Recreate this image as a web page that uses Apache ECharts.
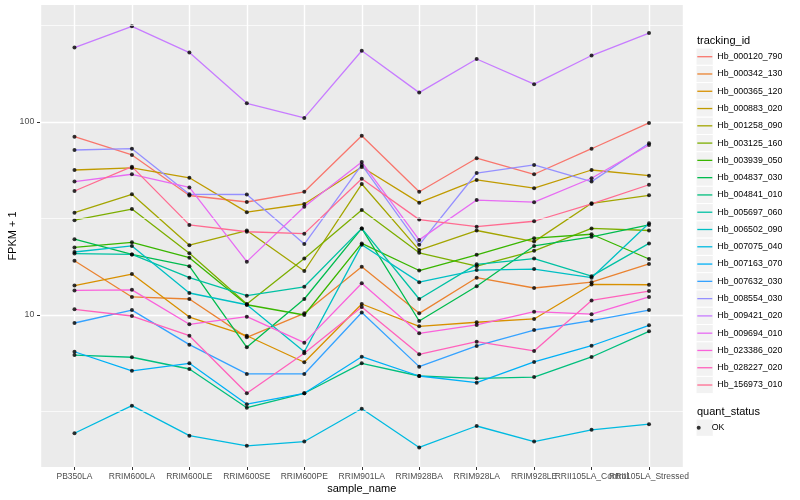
<!DOCTYPE html>
<html><head><meta charset="utf-8">
<script src="https://cdn.jsdelivr.net/npm/echarts@6/dist/echarts.min.js"></script>
<style>html,body{margin:0;padding:0;background:#fff}#c{width:800px;height:500px}</style>
</head><body><div id="c"></div>
<script>
// ---- data ----
const categories = ['PB350LA','RRIM600LA','RRIM600LE','RRIM600SE','RRIM600PE','RRIM901LA','RRIM928BA','RRIM928LA','RRIM928LE','RRII105LA_Control','RRII105LA_Stressed'];
const trackingIds = ['Hb_000120_790','Hb_000342_130','Hb_000365_120','Hb_000883_020','Hb_001258_090','Hb_003125_160','Hb_003939_050','Hb_004837_030','Hb_004841_010','Hb_005697_060','Hb_006502_090','Hb_007075_040','Hb_007163_070','Hb_007632_030','Hb_008554_030','Hb_009421_020','Hb_009694_010','Hb_023386_020','Hb_028227_020','Hb_156973_010'];
const quantStatus = ['OK'];
const Hb_000120_790 = [83.9, 67.5, 41.6, 38.5, 43.5, 84.9, 43.5, 64.9, 53.6, 72.7, 98.9];
const Hb_000342_130 = [19.1, 12.4, 12.1, 7.66, 10.2, 17.8, 10.2, 15.6, 13.8, 14.8, 18.4];
const Hb_000365_120 = [14.2, 16.3, 9.76, 7.81, 5.69, 11.4, 8.74, 9.17, 9.54, 14.4, 14.35];
const Hb_000883_020 = [56.4, 57.8, 51.4, 34.1, 37.6, 58.5, 38.2, 50.1, 45.4, 56.4, 52.7];
const Hb_001258_090 = [33.9, 42.2, 23.0, 27.4, 16.9, 47.7, 21.7, 27.4, 24.0, 37.9, 41.7];
const Hb_003125_160 = [31.0, 35.4, 20.9, 11.4, 19.6, 35.0, 21.0, 17.9, 21.5, 28.1, 27.4];
const Hb_003939_050 = [22.4, 23.8, 19.8, 11.3, 10.0, 23.5, 17.0, 20.5, 25.0, 26.2, 19.5];
const Hb_004837_030 = [24.7, 20.6, 17.9, 6.80, 12.1, 28.1, 9.31, 14.1, 22.8, 25.4, 29.3];
const Hb_004841_010 = [6.20, 6.04, 5.25, 3.31, 3.93, 5.62, 4.83, 4.70, 4.77, 6.06, 8.23];
const Hb_005697_060 = [20.8, 20.6, 15.6, 12.6, 14.0, 28.1, 12.1, 18.3, 19.6, 15.9, 23.5];
const Hb_006502_090 = [21.2, 22.8, 13.0, 11.3, 6.45, 23.1, 14.8, 17.1, 17.3, 15.6, 29.9];
const Hb_007075_040 = [2.44, 3.39, 2.37, 2.10, 2.21, 3.27, 2.06, 2.66, 2.21, 2.54, 2.72];
const Hb_007163_070 = [6.45, 5.14, 5.62, 3.45, 3.93, 6.08, 4.83, 4.46, 5.71, 6.93, 8.84];
const Hb_007632_030 = [9.09, 10.6, 7.02, 4.95, 4.95, 10.3, 5.40, 6.91, 8.36, 9.34, 10.6];
const Hb_008554_030 = [71.6, 72.7, 42.2, 42.1, 23.3, 59.9, 23.1, 54.4, 59.9, 49.1, 77.6];
const Hb_009421_020 = [243, 313, 229, 125, 105, 234, 142, 212, 157, 221, 289];
const Hb_009694_010 = [49.1, 53.6, 45.8, 18.9, 36.4, 62.0, 24.5, 39.4, 38.4, 51.1, 76.0];
const Hb_023386_020 = [13.4, 13.5, 8.95, 9.80, 7.19, 14.6, 8.04, 8.88, 10.4, 10.1, 12.4];
const Hb_028227_020 = [10.7, 9.88, 7.81, 3.93, 6.33, 11.0, 6.26, 7.27, 6.51, 11.9, 13.3];
const Hb_156973_010 = [43.9, 58.7, 29.3, 27.0, 26.4, 50.8, 31.2, 28.7, 30.6, 37.6, 47.3];
const yTickValues = [10, 100];
const yMinorGridValues = [3.162, 31.62, 316.2];

// ---- styling ----
const seriesValues = [Hb_000120_790, Hb_000342_130, Hb_000365_120, Hb_000883_020, Hb_001258_090, Hb_003125_160, Hb_003939_050, Hb_004837_030, Hb_004841_010, Hb_005697_060, Hb_006502_090, Hb_007075_040, Hb_007163_070, Hb_007632_030, Hb_008554_030, Hb_009421_020, Hb_009694_010, Hb_023386_020, Hb_028227_020, Hb_156973_010];
const palette = ['#F8766D','#EA8331','#D89000','#C09B00','#A3A500','#7CAE00','#39B600','#00BB4E','#00BF7D','#00C1A3','#00BFC4','#00BAE0','#00B0F6','#35A2FF','#9590FF','#C77CFF','#E76BF3','#FA62DB','#FF62BC','#FF6C91'];
const FONT = '"Liberation Sans", Arial, Helvetica, sans-serif';
const X_MIN = -0.6, X_MAX = 10.6;
const catIdx = categories.map((c, i) => i);
// padding entries at the axis ends keep ECharts' min/max-label overlap logic away from the real labels
const xTickValues = [X_MIN].concat(catIdx, [X_MAX]);

const chart = echarts.init(document.getElementById('c'), null, {renderer: 'canvas', width: 800, height: 500});

const lineSeries = trackingIds.map((name, i) => ({
  name, type: 'line',
  data: seriesValues[i].map((v, j) => [j, v]),
  showSymbol: false, symbol: 'none',
  lineStyle: {width: 1.3, color: palette[i]},
  itemStyle: {color: palette[i]},
  silent: true, z: 2,
  emphasis: {disabled: true}
}));
const points = [];
seriesValues.forEach(arr => arr.forEach((v, j) => points.push([j, v])));

const minorGrid = {
  name: '_minor', type: 'line', data: [], silent: true, z: 1,
  markLine: {
    silent: true, symbol: 'none', animation: false,
    label: {show: false},
    lineStyle: {color: '#ffffff', width: 0.7, type: 'solid'},
    emphasis: {disabled: true},
    data: yMinorGridValues.map(v => ({yAxis: v}))
  }
};

const ROW = 17.28;
const LEG1_TOP = 48.06;
const LEG2_TOP = 419.06;
const keyRects = [];
trackingIds.forEach((n, i) => keyRects.push({
  type: 'rect', silent: true, z: 0,
  shape: {x: 696, y: LEG1_TOP + ROW * i, width: 17.28, height: ROW},
  style: {fill: '#F2F2F2', stroke: '#ffffff', lineWidth: 1}
}));
quantStatus.forEach((n, i) => keyRects.push({
  type: 'rect', silent: true, z: 0,
  shape: {x: 696, y: LEG2_TOP + ROW * i, width: 17.28, height: ROW},
  style: {fill: '#F2F2F2', stroke: '#ffffff', lineWidth: 1}
}));

const option = {
  animation: false,
  backgroundColor: '#ffffff',
  textStyle: {fontFamily: FONT},
  title: [
    {text: 'tracking_id', left: 697, top: 34.7, padding: 0,
     textStyle: {fontSize: 11, fontWeight: 'normal', color: '#000', fontFamily: FONT, lineHeight: 12}},
    {text: 'quant_status', left: 697, top: 405.7, padding: 0,
     textStyle: {fontSize: 11, fontWeight: 'normal', color: '#000', fontFamily: FONT, lineHeight: 12}}
  ],
  legend: [
    {data: trackingIds, orient: 'vertical', left: 697.3, top: LEG1_TOP, padding: 0, itemGap: 0,
     itemWidth: 15, itemHeight: 1.3, icon: 'rect', selectedMode: false,
     textStyle: {fontSize: 8.8, color: '#000', fontFamily: FONT, lineHeight: ROW}},
    {data: quantStatus, orient: 'vertical', left: 696.7, top: LEG2_TOP, padding: 0, itemGap: 0,
     itemWidth: 16, itemHeight: 4, icon: 'circle', selectedMode: false,
     textStyle: {fontSize: 8.8, color: '#000', fontFamily: FONT, lineHeight: ROW}}
  ],
  graphic: {elements: keyRects},
  grid: {left: 40, right: 116.5, top: 5, bottom: 33, show: true, backgroundColor: '#EBEBEB', borderWidth: 0, containLabel: false, outerBoundsMode: 'none'},
  xAxis: {
    type: 'value', min: X_MIN, max: X_MAX, position: 'bottom',
    name: 'sample_name', nameLocation: 'middle', nameGap: 16, nameMoveOverlap: false,
    nameTextStyle: {fontSize: 11, color: '#000', fontFamily: FONT},
    axisLine: {show: false, onZero: false},
    axisTick: {show: true, inside: false, length: 3, customValues: xTickValues, lineStyle: {color: '#333333', width: 1}},
    axisLabel: {customValues: xTickValues,
      formatter: v => (Number.isInteger(Math.round(v * 1000) / 1000) && categories[Math.round(v)] !== undefined) ? categories[Math.round(v)] : '',
      fontSize: 8.5, color: '#4D4D4D', margin: 5, fontFamily: FONT, hideOverlap: false, showMinLabel: false, showMaxLabel: false},
    splitLine: {show: true, lineStyle: {color: '#ffffff', width: 1.4}},
    minorSplitLine: {show: false}
  },
  yAxis: {
    type: 'log', logBase: 10, min: 1.631, max: 403.8, position: 'left',
    name: 'FPKM + 1', nameLocation: 'middle', nameGap: 22, nameRotate: 90, nameMoveOverlap: false,
    nameTextStyle: {fontSize: 11, color: '#000', fontFamily: FONT},
    axisLine: {show: false, onZero: false},
    axisTick: {show: true, inside: false, length: 3, customValues: yTickValues, lineStyle: {color: '#333333', width: 1}},
    axisLabel: {customValues: yTickValues, fontSize: 8.8, color: '#4D4D4D', margin: 5.7, fontFamily: FONT, hideOverlap: false},
    splitLine: {show: true, lineStyle: {color: '#ffffff', width: 1.4}}
  },
  series: [minorGrid].concat(lineSeries).concat([{
    name: 'OK', type: 'scatter', data: points, symbol: 'circle', symbolSize: 4,
    itemStyle: {color: '#000000'}, silent: true, z: 3, emphasis: {disabled: true}
  }])
};
chart.setOption(option);
</script></body></html>
